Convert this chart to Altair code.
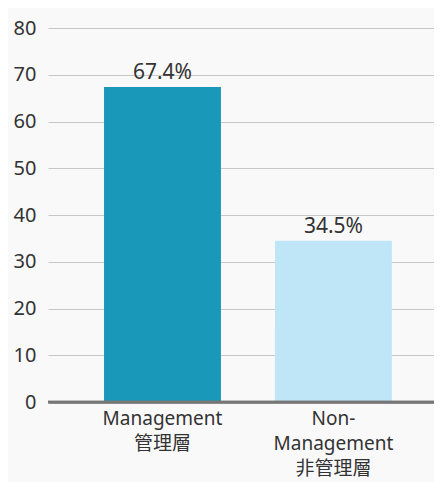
import altair as alt
import pandas as pd

categories = ["Management\n管理層", "Non-\nManagement\n非管理層"]
values = [67.4, 34.5]
labels = ["67.4%", "34.5%"]
colors = ["#1a98ba", "#bee6f7"]

df = pd.DataFrame({"cat": categories, "val": values, "lab": labels, "col": colors})

FONT = "Noto Sans, Noto Sans CJK TC"

x = alt.X("cat:N", sort=categories, title=None,
          scale=alt.Scale(paddingInner=0.316, paddingOuter=0.287, align=0.571),
          axis=alt.Axis(labelExpr="split(datum.label, '\\n')", labelAngle=0,
                        labelFont=FONT, labelFontSize=19, labelColor="#333333",
                        labelLineHeight=25, labelBaseline="top", labelPadding=7,
                        ticks=False, domain=True, domainColor="#777777", domainWidth=2.5,
                        grid=False))
y = alt.Y("val:Q", title=None,
          scale=alt.Scale(domain=[0, 80], nice=False),
          axis=alt.Axis(values=[0, 10, 20, 30, 40, 50, 60, 70, 80], labelFont=FONT,
                        labelFontSize=20, labelColor="#333333", labelPadding=12,
                        ticks=False, domain=False, grid=True, gridColor="#c8c8c8",
                        gridWidth=1.2))

bars = alt.Chart(df).mark_bar().encode(
    x=x, y=y, color=alt.Color("col:N", scale=None))

text = alt.Chart(df).mark_text(font=FONT, fontSize=21, color="#333333", dy=-14).encode(
    x=alt.X("cat:N", sort=categories), y="val:Q", text="lab:N")

base = alt.Chart(df).mark_rule(color="#777777", strokeWidth=2.5).encode(
    y=alt.datum(0))

chart = (bars + text + base).properties(
    width=386, height=374,
    background="#f9f9fa",
    padding={"left": 40, "top": 20, "right": 0, "bottom": 80},
    autosize=alt.AutoSizeParams(type="none"),
).configure_view(stroke=None)

chart.save("out.html", embed_options={"renderer": "svg", "actions": False})
